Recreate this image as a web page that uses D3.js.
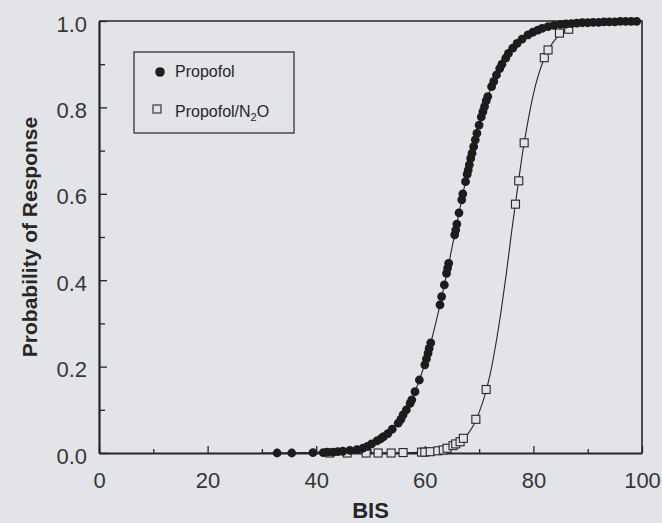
<!DOCTYPE html>
<html>
<head>
<meta charset="utf-8">
<script src="https://cdn.jsdelivr.net/npm/d3@7"></script>
<style>
  body { margin: 0; background: #e3e4e8; }
  svg { display: block; font-family: "Liberation Sans", Arial, sans-serif; }
</style>
</head>
<body>
<svg id="chart" width="662" height="523"></svg>
<script>
const propofolBIS = [32.8, 35.5, 39.4, 41.3, 42.0, 43.1, 44.0, 44.9, 46.2, 47.5, 48.6, 49.4, 50.2, 51.2, 51.9,
  52.4, 53.2, 54.0, 55.1, 55.6, 56.0, 56.6, 57.3, 57.6, 58.2, 59.0, 60.0, 60.3, 60.6, 60.8, 61.1,
  62.8, 63.1, 63.6, 64.0, 64.2, 64.4, 65.5, 65.7, 65.9, 66.3, 66.8, 67.0, 67.5, 67.8, 68.0, 68.2,
  68.45, 68.7, 69.0, 69.3, 69.6, 70.0, 70.4, 70.7, 71.0, 71.3, 71.6, 72.3, 72.7, 73.2, 73.8, 74.2,
  74.9, 75.4, 76.2, 77.0, 77.9, 79.0, 79.9, 80.8, 81.6, 82.7, 83.8, 85, 86, 87, 88, 89, 90, 91, 92,
  93, 94, 95, 96, 97, 98, 99];
const propofolProb = [0, 0, 0.001, 0.001, 0.002, 0.002, 0.003, 0.004, 0.006, 0.008, 0.011, 0.015, 0.021, 0.028, 0.033,
  0.038, 0.045, 0.055, 0.069, 0.078, 0.088, 0.100, 0.115, 0.123, 0.142, 0.169, 0.204, 0.218, 0.231, 0.242, 0.255,
  0.343, 0.362, 0.389, 0.416, 0.428, 0.439, 0.505, 0.516, 0.530, 0.556, 0.586, 0.600, 0.628, 0.645, 0.655, 0.667,
  0.682, 0.694, 0.709, 0.725, 0.740, 0.759, 0.778, 0.790, 0.802, 0.815, 0.825, 0.848, 0.860, 0.875, 0.890, 0.900,
  0.914, 0.925, 0.937, 0.948, 0.958, 0.968, 0.974, 0.979, 0.983, 0.987, 0.990, 0.992, 0.993, 0.994, 0.995, 0.996, 0.996, 0.997, 0.997,
  0.998, 0.998, 0.998, 0.999, 0.999, 0.999, 0.999];

const n2oBIS = [42.5, 45.7, 49.2, 51.4, 53.8, 56.0, 59.4, 60.0, 61.0, 62.4, 63.4, 64.1, 65.2, 65.7, 66.5, 67.1,
  69.4, 71.3, 76.7, 77.3, 78.3, 82.0, 82.7, 84.8, 86.5];
const n2oProb = [0, 0, 0, 0, 0, 0.001, 0.002, 0.002, 0.003, 0.005, 0.007, 0.011, 0.017, 0.021, 0.026, 0.034,
  0.078, 0.147, 0.576, 0.630, 0.718, 0.915, 0.933, 0.972, 0.981];

// fitted curves
const propofolCurveBIS = [30, 40, 45, 50, 52, 54, 56, 58, 60, 61, 62, 63, 64, 65, 66, 67, 68, 69, 70, 71, 72, 74, 76, 78, 80, 84, 88, 94, 100];
const propofolCurveProb = [0.0001, 0.0017, 0.006, 0.021, 0.034, 0.055, 0.087, 0.136, 0.206, 0.25, 0.30, 0.354, 0.413, 0.475, 0.537,
  0.599, 0.657, 0.711, 0.76, 0.802, 0.839, 0.896, 0.934, 0.959, 0.975, 0.99, 0.996, 0.999, 1.0];
const n2oCurveBIS = [40, 55, 60, 63, 65, 67, 69, 70, 71, 72, 73, 74, 75, 76, 77, 78, 79, 80, 81, 82, 83, 84, 86, 88, 92, 100];
const n2oCurveProb = [0, 0.0003, 0.002, 0.007, 0.015, 0.031, 0.065, 0.094, 0.131, 0.18, 0.246, 0.324, 0.414, 0.513, 0.605,
  0.694, 0.768, 0.831, 0.878, 0.913, 0.939, 0.957, 0.98, 0.991, 0.998, 1.0];

const xMajor = [0, 20, 40, 60, 80, 100];
const xMinor = [10, 30, 50, 70, 90];
const yMajor = [0, 0.2, 0.4, 0.6, 0.8, 1.0];
const yMinor = [0.1, 0.3, 0.5, 0.7, 0.9];

const ink = '#262626';
const bg = '#e3e4e8';

const svg = d3.select('#chart');
svg.append('rect').attr('width', 662).attr('height', 523).attr('fill', bg);

const x = d3.scaleLinear().domain([0, 100]).range([99, 642]);
const y = d3.scaleLinear().domain([0, 1]).range([453, 21]);

// frame top/right
svg.append('path')
  .attr('d', `M${x(0)},${y(1)}H${x(100)}V${y(0)}`)
  .attr('fill', 'none')
  .attr('stroke', ink)
  .attr('stroke-width', 1.6)

const line = d3.line()
  .x((d) => x(d[0]))
  .y((d) => y(d[1]))
  .curve(d3.curveMonotoneX)

svg.append('path')
  .datum(propofolCurveBIS.map((b, i) => [b, propofolCurveProb[i]]))
  .attr('d', line)
  .attr('fill', 'none')
  .attr('stroke', ink)
  .attr('stroke-width', 1.1)

svg.append('path')
  .datum(n2oCurveBIS.map((b, i) => [b, n2oCurveProb[i]]))
  .attr('d', line)
  .attr('fill', 'none')
  .attr('stroke', ink)
  .attr('stroke-width', 1.1)

// axes
const leftAxis = d3.axisLeft(y).tickValues(yMajor).tickFormat(d3.format('.1f'))
  .tickSizeInner(-8).tickSizeOuter(0).tickPadding(12);
const gy = svg.append('g').attr('transform', `translate(${x(0)}, 0)`).call(leftAxis);

const leftMinor = d3.axisLeft(y).tickValues(yMinor).tickFormat('').tickSizeInner(-6).tickSizeOuter(0);
svg.append('g').attr('transform', `translate(${x(0)}, 0)`).call(leftMinor)
  .call((g) => g.select('.domain').remove());

const bottomAxis = d3.axisBottom(x).tickValues(xMajor)
  .tickSizeInner(-7).tickSizeOuter(0).tickPadding(19);
const gx = svg.append('g').attr('transform', `translate(0, ${y(0)})`).call(bottomAxis);

const bottomMinor = d3.axisBottom(x).tickValues(xMinor).tickFormat('').tickSizeInner(-4).tickSizeOuter(0);
svg.append('g').attr('transform', `translate(0, ${y(0)})`).call(bottomMinor)
  .call((g) => g.select('.domain').remove());

svg.selectAll('.domain').attr('stroke', ink).attr('stroke-width', 2.2);
svg.selectAll('.tick line').attr('stroke', ink).attr('stroke-width', 1.3);
svg.selectAll('.tick text')
  .attr('fill', '#363636')
  .style('font-size', '22px')
  .style('font-family', '"Liberation Sans", Arial, sans-serif');
gy.selectAll('.tick text').attr('dy', '0.46em');

// points
svg.append('g')
  .selectAll('rect')
  .data(n2oBIS.map((b, i) => [b, n2oProb[i]]))
  .enter()
  .append('rect')
  .attr('x', (d) => x(d[0]) - 4)
  .attr('y', (d) => y(d[1]) - 4)
  .attr('width', 8)
  .attr('height', 8)
  .attr('fill', bg)
  .attr('stroke', ink)
  .attr('stroke-width', 1.1)

svg.append('g')
  .selectAll('circle')
  .data(propofolBIS.map((b, i) => [b, propofolProb[i]]))
  .enter()
  .append('circle')
  .attr('cx', (d) => x(d[0]))
  .attr('cy', (d) => y(d[1]))
  .attr('r', 4.4)
  .attr('fill', '#1c1c1c')

// axis titles
svg.append('text')
  .text('BIS')
  .attr('x', (x(0) + x(100)) / 2)
  .attr('y', 518)
  .attr('text-anchor', 'middle')
  .attr('fill', ink)
  .style('font-size', '22px')
  .style('font-weight', 'bold')

svg.append('text')
  .text('Probability of Response')
  .attr('transform', `translate(37, ${(y(0) + y(1)) / 2}) rotate(-90)`)
  .attr('text-anchor', 'middle')
  .attr('fill', ink)
  .style('font-size', '21px')
  .style('font-weight', 'bold')

// legend
const legend = svg.append('g');
legend.append('rect')
  .attr('x', 134).attr('y', 52).attr('width', 160).attr('height', 81)
  .attr('fill', 'none').attr('stroke', ink).attr('stroke-width', 1.2)

legend.append('circle').attr('cx', 160).attr('cy', 72).attr('r', 4.8).attr('fill', '#1c1c1c')
legend.append('text').text('Propofol')
  .attr('x', 175).attr('y', 77).attr('fill', ink).style('font-size', '16px')

legend.append('rect').attr('x', 153).attr('y', 105).attr('width', 8).attr('height', 8)
  .attr('fill', 'none').attr('stroke', ink).attr('stroke-width', 1.1)
const n2oLabel = legend.append('text').attr('x', 175).attr('y', 117).attr('fill', ink).style('font-size', '16px');
n2oLabel.append('tspan').text('Propofol/N');
n2oLabel.append('tspan').text('2').attr('dy', 4).style('font-size', '11px');
n2oLabel.append('tspan').text('O').attr('dy', -4);
</script>
</body>
</html>
